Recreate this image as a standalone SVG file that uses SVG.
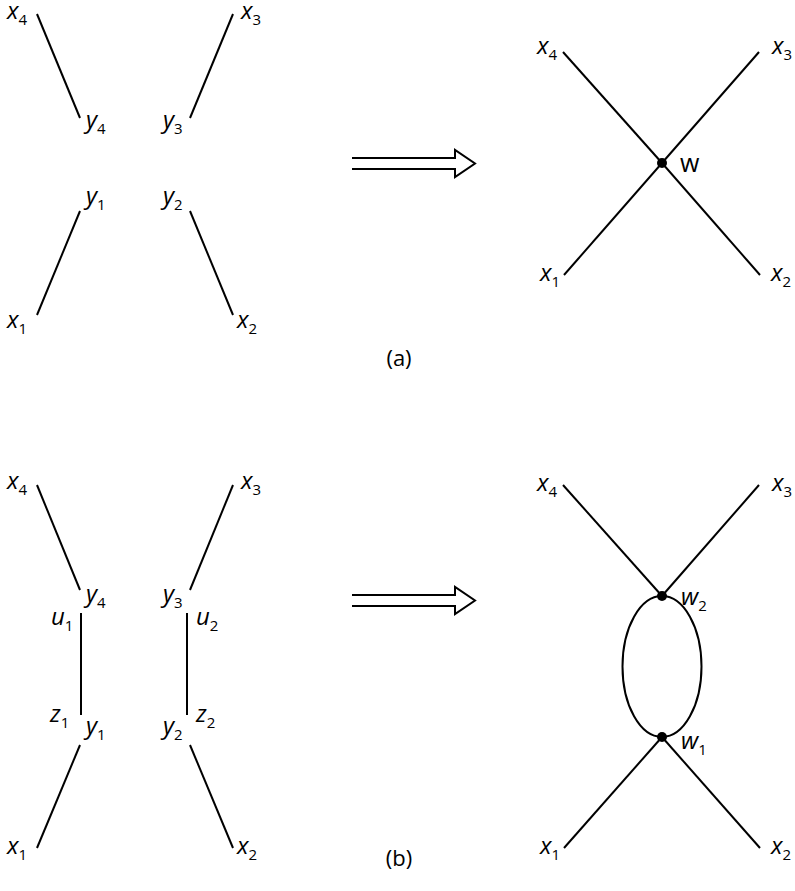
<svg xmlns="http://www.w3.org/2000/svg" width="795" height="891" viewBox="0 0 795 891">
<style>
.e{stroke:#000;stroke-width:2;fill:none;stroke-linecap:butt}
.l{font-family:"Open Sans","Liberation Sans",sans-serif;font-size:24px;font-style:italic;fill:#000}
.s{font-size:15px;font-style:normal}
.u{font-family:"Open Sans","Liberation Sans",sans-serif;font-size:22px;fill:#000}
.w{font-size:25px}
.d{fill:#000}
</style>
<rect width="795" height="891" fill="#fff"/>
<g id="connectors">
<line class="e" x1="37" y1="14" x2="80" y2="118"/>
<line class="e" x1="233" y1="14" x2="190" y2="118"/>
<line class="e" x1="80" y1="211" x2="37" y2="315"/>
<line class="e" x1="190" y1="211" x2="233" y2="315"/>
<line class="e" x1="563" y1="52" x2="662" y2="163"/>
<line class="e" x1="759" y1="52" x2="662" y2="163"/>
<line class="e" x1="564" y1="275" x2="662" y2="163"/>
<line class="e" x1="760" y1="275" x2="662" y2="163"/>
<line class="e" x1="37" y1="485" x2="80" y2="590"/>
<line class="e" x1="233" y1="485" x2="190" y2="590"/>
<line class="e" x1="81" y1="613" x2="81" y2="715"/>
<line class="e" x1="187" y1="613" x2="187" y2="715"/>
<line class="e" x1="80" y1="745" x2="37" y2="848"/>
<line class="e" x1="190" y1="745" x2="233" y2="848"/>
<line class="e" x1="563" y1="485" x2="662" y2="596"/>
<line class="e" x1="759" y1="485" x2="662" y2="596"/>
<ellipse class="e" cx="662" cy="666.5" rx="39.5" ry="70.5"/>
<line class="e" x1="564" y1="848" x2="662" y2="737"/>
<line class="e" x1="760" y1="848" x2="662" y2="737"/>
</g>
<g id="arrow-a">
<path class="e" d="M352,158 H455 V150 L475,163.5 L455,177 V169 H352"/>
</g>
<g id="arrow-b">
<path class="e" d="M352,595 H455 V587 L475,600.5 L455,614 V606 H352"/>
</g>
<g id="a-x4"><text class="l" x="7" y="19">x<tspan class="s" dy="6">4</tspan></text></g>
<g id="a-x3"><text class="l" x="241" y="19">x<tspan class="s" dy="6">3</tspan></text></g>
<g id="a-y4"><text class="l" x="86" y="128">y<tspan class="s" dy="6">4</tspan></text></g>
<g id="a-y3"><text class="l" x="163" y="128">y<tspan class="s" dy="6">3</tspan></text></g>
<g id="a-y1"><text class="l" x="86" y="204">y<tspan class="s" dy="6">1</tspan></text></g>
<g id="a-y2"><text class="l" x="163" y="204">y<tspan class="s" dy="6">2</tspan></text></g>
<g id="a-x1"><text class="l" x="7" y="328">x<tspan class="s" dy="6">1</tspan></text></g>
<g id="a-x2"><text class="l" x="237" y="328">x<tspan class="s" dy="6">2</tspan></text></g>
<g id="a-w"><circle class="d" cx="662" cy="163" r="5"/><text class="u w" x="680" y="172">w</text></g>
<g id="ar-x4"><text class="l" x="537" y="54">x<tspan class="s" dy="6">4</tspan></text></g>
<g id="ar-x3"><text class="l" x="772" y="54">x<tspan class="s" dy="6">3</tspan></text></g>
<g id="ar-x1"><text class="l" x="540" y="281">x<tspan class="s" dy="6">1</tspan></text></g>
<g id="ar-x2"><text class="l" x="771" y="281">x<tspan class="s" dy="6">2</tspan></text></g>
<g id="cap-a"><text class="u" x="399" y="366" text-anchor="middle">(a)</text></g>
<g id="b-x4"><text class="l" x="7" y="489">x<tspan class="s" dy="6">4</tspan></text></g>
<g id="b-x3"><text class="l" x="241" y="489">x<tspan class="s" dy="6">3</tspan></text></g>
<g id="b-y4"><text class="l" x="86" y="602">y<tspan class="s" dy="6">4</tspan></text></g>
<g id="b-y3"><text class="l" x="163" y="602">y<tspan class="s" dy="6">3</tspan></text></g>
<g id="b-u1"><text class="l" x="51" y="625">u<tspan class="s" dy="6">1</tspan></text></g>
<g id="b-u2"><text class="l" x="196" y="625">u<tspan class="s" dy="6">2</tspan></text></g>
<g id="b-z1"><text class="l" x="50" y="722">z<tspan class="s" dy="6">1</tspan></text></g>
<g id="b-z2"><text class="l" x="196" y="722">z<tspan class="s" dy="6">2</tspan></text></g>
<g id="b-y1"><text class="l" x="86" y="734">y<tspan class="s" dy="6">1</tspan></text></g>
<g id="b-y2"><text class="l" x="163" y="734">y<tspan class="s" dy="6">2</tspan></text></g>
<g id="b-x1"><text class="l" x="7" y="854">x<tspan class="s" dy="6">1</tspan></text></g>
<g id="b-x2"><text class="l" x="237" y="854">x<tspan class="s" dy="6">2</tspan></text></g>
<g id="b-w2"><circle class="d" cx="662" cy="596" r="5"/><text class="l" x="681" y="605">w<tspan class="s" dy="6">2</tspan></text></g>
<g id="b-w1"><circle class="d" cx="662" cy="737" r="5"/><text class="l" x="681" y="749">w<tspan class="s" dy="6">1</tspan></text></g>
<g id="br-x4"><text class="l" x="537" y="491">x<tspan class="s" dy="6">4</tspan></text></g>
<g id="br-x3"><text class="l" x="772" y="491">x<tspan class="s" dy="6">3</tspan></text></g>
<g id="br-x1"><text class="l" x="540" y="854">x<tspan class="s" dy="6">1</tspan></text></g>
<g id="br-x2"><text class="l" x="771" y="854">x<tspan class="s" dy="6">2</tspan></text></g>
<g id="cap-b"><text class="u" x="399" y="866" text-anchor="middle">(b)</text></g>
</svg>
